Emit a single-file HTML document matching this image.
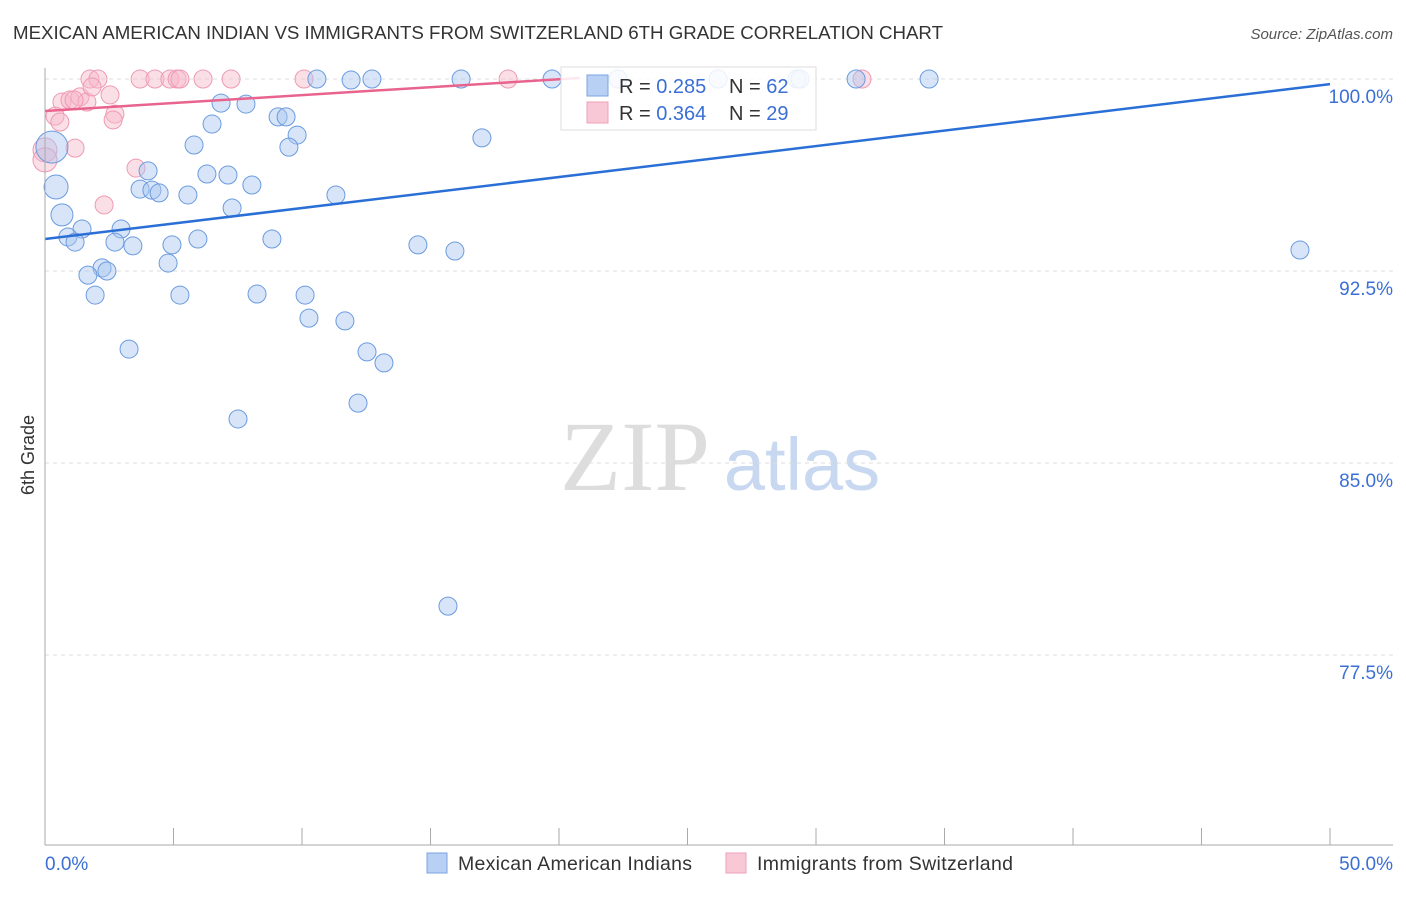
<!DOCTYPE html>
<html><head><meta charset="utf-8"><style>
body{margin:0;background:#fff;width:1406px;height:892px;overflow:hidden;font-family:"Liberation Sans",sans-serif}
</style></head><body>
<svg id="chart" width="1406" height="892" font-family="Liberation Sans, sans-serif">
<text x="13" y="39" font-size="18.7" fill="#333" textLength="930">MEXICAN AMERICAN INDIAN VS IMMIGRANTS FROM SWITZERLAND 6TH GRADE CORRELATION CHART</text>
<text x="1393" y="39" font-size="15" fill="#555" font-style="italic" text-anchor="end">Source: ZipAtlas.com</text>
<text x="34" y="455" font-size="18" fill="#333" text-anchor="middle" transform="rotate(-90 34 455)">6th Grade</text>
<g>
<text x="635" y="490" font-size="100" fill="#ddd" style="font-family:'Liberation Serif',serif" text-anchor="middle">ZIP</text>
<text x="802" y="490" font-size="74" fill="#c8d8f0" text-anchor="middle">atlas</text></g>
<g id="grid"></g><g id="pts"></g><g id="lines"></g>
<line x1="45" y1="68" x2="45" y2="845" stroke="#aaa"/>
<line x1="45" y1="845" x2="1393" y2="845" stroke="#aaa"/>
<text x="45" y="870" font-size="19" fill="#3b6fd4">0.0%</text>
<text x="1393" y="870" font-size="19" fill="#3b6fd4" text-anchor="end">50.0%</text>
<g>
<rect x="561" y="67" width="255" height="63" fill="#fff" fill-opacity="0.85" stroke="#ddd"/>
<rect x="587" y="75" width="21" height="21" fill="#b8d0f4" stroke="#7aa3e0"/>
<rect x="587" y="102" width="21" height="21" fill="#f9c8d6" stroke="#eea0b8"/>
<text x="619" y="93" font-size="20" fill="#333">R = <tspan fill="#3b6fd4">0.285</tspan></text>
<text x="729" y="93" font-size="20" fill="#333">N = <tspan fill="#3b6fd4">62</tspan></text>
<text x="619" y="120" font-size="20" fill="#333">R = <tspan fill="#3b6fd4">0.364</tspan></text>
<text x="729" y="120" font-size="20" fill="#333">N = <tspan fill="#3b6fd4">29</tspan></text></g>
<g>
<rect x="427" y="853" width="20" height="20" fill="#b8d0f4" stroke="#7aa3e0"/>
<text x="458" y="870" font-size="19.5" fill="#333" textLength="234">Mexican American Indians</text>
<rect x="726" y="853" width="20" height="20" fill="#f9c8d6" stroke="#eea0b8"/>
<text x="757" y="870" font-size="19.5" fill="#333" textLength="256">Immigrants from Switzerland</text></g>
</svg>
<script>
const yTicks=[100,92.5,85,77.5];
const yTickLabels=["100.0%","92.5%","85.0%","77.5%"];
const xTicks=[0,5,10,15,20,25,30,35,40,45,50];
const blueX=[10.58,11.91,12.72,16.19,19.73,22.30,26.19,29.26,29.38,31.56,34.40,6.85,7.82,6.50,9.07,9.38,9.81,9.49,5.80,17.00,4.01,6.30,7.12,8.05,3.70,4.16,4.44,5.56,11.32,7.28,0.66,1.44,2.96,0.89,1.17,2.72,3.42,4.94,5.95,8.83,14.51,15.95,48.83,2.22,2.41,1.67,4.79,1.95,5.25,8.25,10.12,10.27,11.67,3.27,12.53,13.19,12.18,7.51,15.68,0.27,0.43];
const blueY=[100,99.96,100,100,100,100,100,100,100,100,100,99.06,99.02,98.24,98.52,98.52,97.81,97.34,97.42,97.70,96.41,96.29,96.25,95.86,95.70,95.66,95.55,95.47,95.47,94.96,94.69,94.14,94.14,93.83,93.63,93.63,93.48,93.52,93.75,93.75,93.52,93.28,93.32,92.62,92.50,92.34,92.81,91.56,91.56,91.60,91.56,90.66,90.55,89.45,89.34,88.91,87.34,86.72,79.41,97.34,95.78];
const blueR=[9,9,9,9,9,9,9,9,9,9,9,9,9,9,9,9,9,9,9,9,9,9,9,9,9,9,9,9,9,9,11,9,9,9,9,9,9,9,9,9,9,9,9,9,9,9,9,9,9,9,9,9,9,9,9,9,9,9,9,16,12];
const pinkX=[1.75,2.06,3.70,4.28,4.86,5.14,5.25,6.15,7.24,10.08,18.02,31.79,0.66,0.97,1.36,1.63,1.83,2.53,0.39,0.58,2.72,2.65,1.17,3.54,2.30,0,0,1.13];
const pinkY=[100,100,100,100,100,100,100,100,100,100,100,100,99.10,99.18,99.30,99.10,99.69,99.38,98.55,98.32,98.63,98.40,97.30,96.52,95.08,97.23,96.84,99.18];
const pinkR=[9,9,9,9,9,9,9,9,9,9,9,9,9,9,9,9,9,9,9,9,9,9,9,9,9,12,12,9];
const blueTrend=[93.75,99.8];
const pinkTrend=[98.75,100.04,20.8];
const X=v=>45+v*25.7, Y=v=>79+(100-v)*25.6;
const NS="http://www.w3.org/2000/svg";
function mk(t,a,p){const e=document.createElementNS(NS,t);for(const k in a)e.setAttribute(k,a[k]);p.appendChild(e);return e;}
const grid=document.getElementById('grid'),pts=document.getElementById('pts'),lines=document.getElementById('lines');
yTicks.forEach((v,i)=>{
 const l=mk('line',{x1:45,x2:1393,y1:Y(v),y2:Y(v),stroke:'#ddd','stroke-dasharray':'4,4'},grid);
 
 
 const t=mk('text',{x:1393,y:Y(v)+24,'font-size':19,fill:'#3b6fd4','text-anchor':'end'},grid);
 t.textContent=yTickLabels[i];
 
 
});
xTicks.forEach(v=>{
 const l=mk('line',{x1:X(v),x2:X(v),y1:828,y2:845,stroke:'#aaa'},grid);
 
 
});
pinkX.forEach((v,i)=>{
 const c=mk('circle',{cx:X(v),cy:Y(pinkY[i]),r:pinkR[i],fill:'#f7b8ca','fill-opacity':0.45,stroke:'#ee9ab4','stroke-width':1},pts);
 
 
});
blueX.forEach((v,i)=>{
 const c=mk('circle',{cx:X(v),cy:Y(blueY[i]),r:blueR[i],fill:'#a9c6f0','fill-opacity':0.45,stroke:'#6a9be0','stroke-width':1},pts);
 
 
});
const bl=mk('line',{x1:X(0),y1:Y(blueTrend[0]),x2:X(50),y2:Y(blueTrend[1]),stroke:'#2a6fd6','stroke-width':2.5},lines);


const pl=mk('line',{x1:X(0),y1:Y(pinkTrend[0]),x2:X(pinkTrend[2]),y2:Y(pinkTrend[1]),stroke:'#e8648e','stroke-width':2.5},lines);


</script>
</body></html>
